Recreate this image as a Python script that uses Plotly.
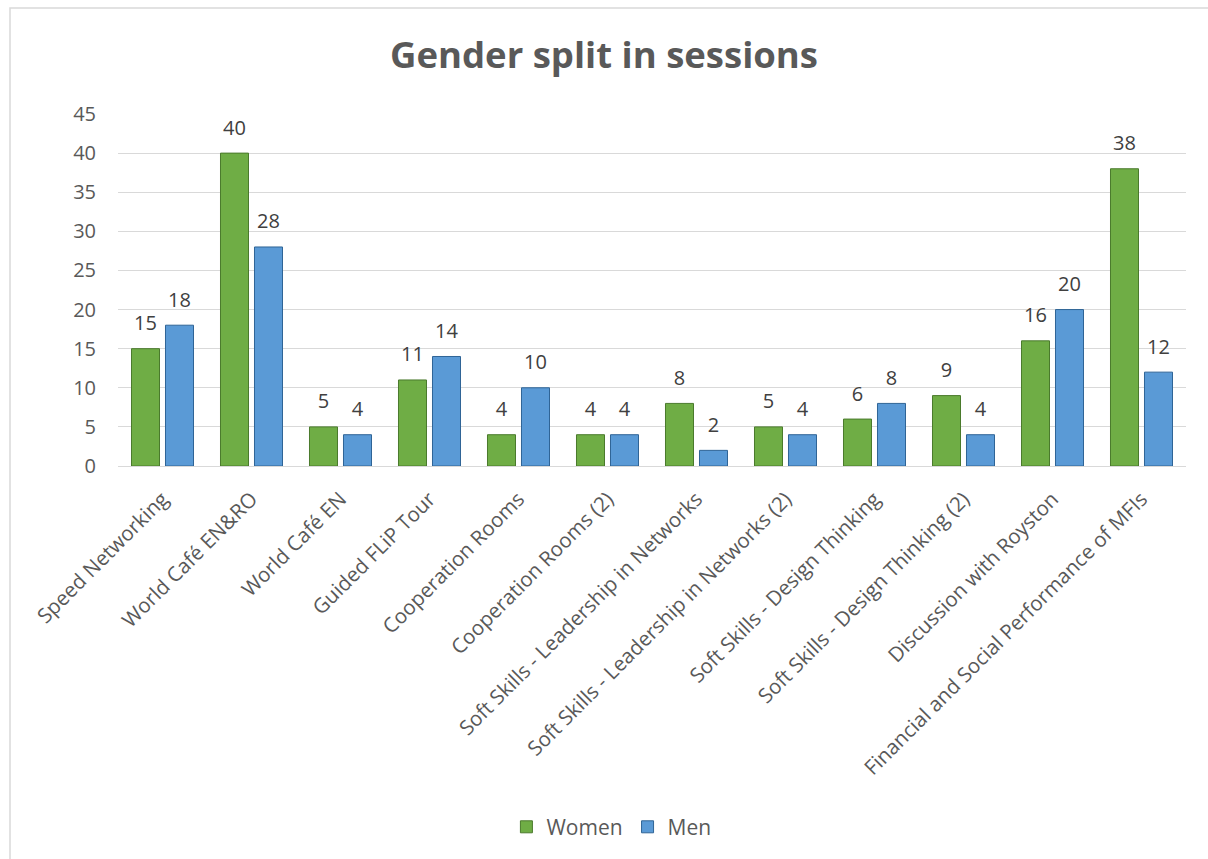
import plotly.graph_objects as go

sessions = [
    "Speed Networking",
    "World Café EN&RO",
    "World Café EN",
    "Guided FLiP Tour",
    "Cooperation Rooms",
    "Cooperation Rooms (2)",
    "Soft Skills - Leadership in Networks",
    "Soft Skills - Leadership in Networks (2)",
    "Soft Skills - Design Thinking",
    "Soft Skills - Design Thinking (2)",
    "Discussion with Royston",
    "Financial and Social Performance of MFIs",
]
women = [15, 40, 5, 11, 4, 4, 8, 5, 6, 9, 16, 38]
men = [18, 28, 4, 14, 10, 4, 2, 4, 8, 4, 20, 12]

FONT = "Open Sans"
TEXT_GRAY = "#595959"
LABEL_GRAY = "#404040"

series = [
    ("Women", women, "#6FAD45", "#4A7A2C"),
    ("Men", men, "#5A9AD6", "#2F6496"),
]

fig = go.Figure()
for name, values, fill, edge in series:
    fig.add_trace(go.Bar(
        name=name, x=sessions, y=values, offsetgroup=name,
        marker=dict(color=fill, line=dict(color=edge, width=1)),
    ))
for name, values, fill, edge in series:
    # value labels floating a little above each bar
    fig.add_trace(go.Scatter(
        x=sessions, y=values, offsetgroup=name, mode="markers+text",
        text=[str(v) for v in values], textposition="top center",
        marker=dict(size=20, color="rgba(0,0,0,0)"),
        textfont=dict(family=FONT, size=20, color=LABEL_GRAY),
        showlegend=False, hoverinfo="skip", cliponaxis=False,
    ))

fig.update_layout(
    width=1208, height=859,
    margin=dict(l=118, r=22, t=114, b=393, autoexpand=False),
    paper_bgcolor="white", plot_bgcolor="white",
    barmode="group", bargap=0.236, bargroupgap=0.176,
    scattermode="group", scattergap=0.236,
    title=dict(
        text="<b>Gender split in sessions</b>",
        x=0.5, xanchor="center", y=0.936, yanchor="middle",
        font=dict(family=FONT, size=36.5, color=TEXT_GRAY),
    ),
    font=dict(family=FONT, color=TEXT_GRAY),
    legend=dict(
        orientation="h", x=0.462, xanchor="center", y=-1.026, yanchor="middle",
        font=dict(family=FONT, size=21, color=TEXT_GRAY),
        itemwidth=30, traceorder="normal",
    ),
    yaxis=dict(
        range=[0, 45], dtick=5, showgrid=True, gridcolor="#D9D9D9", gridwidth=1,
        zeroline=False, showline=False, ticks="",
        tickfont=dict(family=FONT, size=20, color=TEXT_GRAY),
        ticklabelstandoff=21,
    ),
    xaxis=dict(
        showline=True, linecolor="#D9D9D9", linewidth=1, ticks="",
        tickangle=-45, tickfont=dict(family=FONT, size=20.5, color=TEXT_GRAY),
        ticklabelstandoff=12,
    ),
    shapes=[
        dict(type="rect", xref="paper", yref="paper",
             x0=-108 / 1068, x1=1.1, y0=-1.3, y1=1 + 106 / 352,
             line=dict(color="#D9D9D9", width=1.5), fillcolor="rgba(0,0,0,0)"),
    ],
)

fig.write_html("out.html")
